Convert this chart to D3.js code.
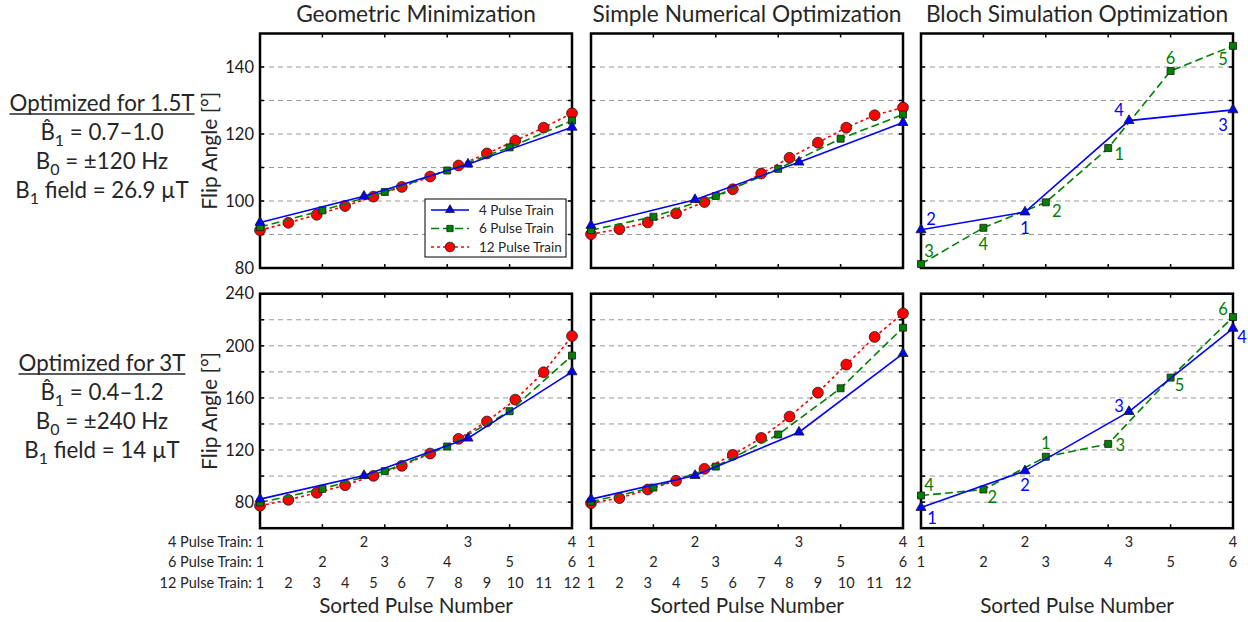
<!DOCTYPE html>
<html>
<head>
<meta charset="utf-8">
<script src="https://cdn.jsdelivr.net/npm/d3@7"></script>
<style>
body { margin: 0; background: #fff; }
text { font-family: Lato, "Open Sans", sans-serif; fill: #262626; }
</style>
</head>
<body>
<div id="chart"></div>
<script>
// data
var trainNames = ["4 Pulse Train", "6 Pulse Train", "12 Pulse Train"];
var colTitles = ["Geometric Minimization", "Simple Numerical Optimization", "Bloch Simulation Optimization"];

// 1.5T row
var gm15_4 = [93.6, 101.4, 111.0, 122.0];
var gm15_6 = [92.2, 97.2, 102.7, 109.1, 116.0, 124.0];
var gm15_12 = [91.3, 93.5, 95.9, 98.5, 101.3, 104.2, 107.3, 110.6, 114.2, 118.0, 121.9, 126.2];
var sno15_4 = [92.7, 100.4, 111.6, 123.4];
var sno15_6 = [91.3, 95.3, 101.5, 109.6, 118.6, 125.8];
var sno15_12 = [90.1, 91.6, 93.6, 96.3, 99.7, 103.5, 108.2, 112.9, 117.4, 121.9, 125.6, 127.9];
var bloch15_4 = [91.4, 96.7, 124.0, 127.2];
var bloch15_6 = [81.2, 92.0, 99.6, 115.8, 138.8, 146.3];
var bloch15_4Order = ["2", "1", "4", "3"];
var bloch15_6Order = ["3", "4", "2", "1", "6", "5"];

// 3T row
var gm3_4 = [82.3, 100.4, 129.1, 180.0];
var gm3_6 = [79.7, 90.2, 103.8, 122.7, 149.8, 192.5];
var gm3_12 = [77.2, 81.8, 87.2, 93.0, 100.2, 107.9, 117.3, 128.6, 141.9, 158.7, 179.7, 207.5];
var sno3_4 = [82.3, 100.4, 133.7, 194.0];
var sno3_6 = [80.3, 91.2, 107.3, 131.9, 167.4, 213.9];
var sno3_12 = [79.2, 83.1, 89.7, 96.4, 105.6, 116.3, 129.3, 145.7, 164.1, 185.6, 206.8, 224.9];
var bloch3_4 = [75.9, 104.0, 149.5, 213.4];
var bloch3_6 = [85.1, 89.7, 114.8, 124.7, 175.6, 222.1];
var bloch3_4Order = ["1", "2", "3", "4"];
var bloch3_6Order = ["4", "2", "1", "3", "5", "6"];

// left side notes: [text, subscript, text, ...]
var notes15 = [["Optimized for 1.5T"], ["B\u0302", "1", " = 0.7\u20131.0"], ["B", "0", " = \u00b1120 Hz"], ["B", "1", " field = 26.9 \u00b5T"]];
var notes3 = [["Optimized for 3T"], ["B\u0302", "1", " = 0.4\u20131.2"], ["B", "0", " = \u00b1240 Hz"], ["B", "1", " field = 14 \u00b5T"]];

// layout
var W = 1248, H = 622;
var colX = [260, 591, 921], panelW = 312;
var rowY = [33.5, 293.7], panelH = 234.5;
var yDomains = [[80, 150], [60, 240]];
var yLabelTicks = [[80, 100, 120, 140], [80, 120, 160, 200, 240]];
var yGridTicks = [d3.range(90, 150, 10), d3.range(80, 240, 20)];

var colors = ["#0000ff", "#008000", "#ff0000"];
var dashes = [null, "8,4", "3,3"];
var symbolTypes = [d3.symbolTriangle, d3.symbolSquare, d3.symbolCircle];
var symbolSizes = [44, 49, 92];

// label offsets for Bloch pulse order numbers (dx, dy)
var off15_4 = [[10, -11], [0, 16], [-10, -10], [-10, 15]];
var off15_6 = [[8, -13], [0, 16], [11, 9], [11, 6], [0, -13], [-10, 13]];
var off3_4 = [[11, 11], [0, 14], [-10, -5], [9, 9]];
var off3_6 = [[8, -10], [9, 8], [0, -14], [12, 1], [9, 8], [-10, -8]];

var panels = [
  [[gm15_4, gm15_6, gm15_12], [sno15_4, sno15_6, sno15_12], [bloch15_4, bloch15_6]],
  [[gm3_4, gm3_6, gm3_12], [sno3_4, sno3_6, sno3_12], [bloch3_4, bloch3_6]]
];
var orders = [[bloch15_4Order, bloch15_6Order], [bloch3_4Order, bloch3_6Order]];
var offsets = [[off15_4, off15_6], [off3_4, off3_6]];

var svg = d3.select("#chart")
  .append("svg")
  .attr("width", W)
  .attr("height", H);

function xScale(n) {
  return d3.scaleLinear().domain([1, n]).range([0, panelW]);
}
var x6 = xScale(6);

colTitles.forEach(function(t, c){
  svg.append("text")
    .attr("x", colX[c] + panelW / 2)
    .attr("y", 22)
    .attr("text-anchor", "middle")
    .style("font-size", "22.7px")
    .text(t);
});

[0, 1].forEach(function(r){
  var y = d3.scaleLinear().domain(yDomains[r]).range([panelH, 0]);

  // y axis title
  svg.append("text")
    .attr("transform", "translate(217," + (rowY[r] + panelH / 2) + ") rotate(-90)")
    .attr("text-anchor", "middle")
    .style("font-size", "21px")
    .text("Flip Angle [\u00b0]");

  // y tick labels (left column only)
  svg.append("g").selectAll("text")
    .data(yLabelTicks[r]).enter()
    .append("text")
    .attr("x", 254)
    .attr("y", function(d){ return rowY[r] + y(d); })
    .attr("dy", "0.35em")
    .attr("text-anchor", "end")
    .style("font-size", "16.5px")
    .style("fill", "#1a1a1a")
    .text(function(d){ return d; });

  [0, 1, 2].forEach(function(c){
    var g = svg.append("g")
      .attr("transform", "translate(" + colX[c] + "," + rowY[r] + ")");

    // grid
    g.append("g").selectAll("line")
      .data(yGridTicks[r]).enter()
      .append("line")
      .attr("x1", 0).attr("x2", panelW)
      .attr("y1", function(d){ return y(d); })
      .attr("y2", function(d){ return y(d); })
      .attr("stroke", "#9a9a9a")
      .attr("stroke-width", 1)
      .attr("stroke-dasharray", "5,4");

    // inward ticks
    var yt = yGridTicks[r];
    g.append("g").selectAll("line")
      .data(yt.concat(yt)).enter()
      .append("line")
      .attr("x1", function(d, i){ return i < yt.length ? 0 : panelW; })
      .attr("x2", function(d, i){ return i < yt.length ? 4 : panelW - 4; })
      .attr("y1", function(d){ return y(d); })
      .attr("y2", function(d){ return y(d); })
      .attr("stroke", "#000")
      .attr("stroke-width", 1.5);
    var xt = [2, 3, 4, 5];
    g.append("g").selectAll("line")
      .data(xt.concat(xt)).enter()
      .append("line")
      .attr("x1", function(d){ return x6(d); })
      .attr("x2", function(d){ return x6(d); })
      .attr("y1", function(d, i){ return i < xt.length ? 0 : panelH; })
      .attr("y2", function(d, i){ return i < xt.length ? 4 : panelH - 4; })
      .attr("stroke", "#000")
      .attr("stroke-width", 1.5);

    // frame
    g.append("rect")
      .attr("width", panelW)
      .attr("height", panelH)
      .attr("fill", "none")
      .attr("stroke", "#000")
      .attr("stroke-width", 2.5);

    var series = panels[r][c];
    // draw 12 first so that 4 sits on top
    d3.range(series.length).reverse().forEach(function(s){
      var vals = series[s];
      var x = xScale(vals.length);
      var line = d3.line()
        .x(function(d, i){ return x(i + 1); })
        .y(function(d){ return y(d); });
      g.append("path")
        .datum(vals)
        .attr("d", line)
        .attr("fill", "none")
        .attr("stroke", colors[s])
        .attr("stroke-width", 1.6)
        .attr("stroke-dasharray", dashes[s]);
      var sym = d3.symbol().type(symbolTypes[s]).size(symbolSizes[s]);
      g.append("g").selectAll("path")
        .data(vals).enter()
        .append("path")
        .attr("transform", function(d, i){ return "translate(" + x(i + 1) + "," + y(d) + ")"; })
        .attr("d", sym)
        .attr("fill", colors[s])
        .attr("stroke", "#1a1a1a")
        .attr("stroke-width", 0.8);

      if (c == 2) {
        var ord = orders[r][s], off = offsets[r][s];
        g.append("g").selectAll("text")
          .data(vals).enter()
          .append("text")
          .attr("x", function(d, i){ return x(i + 1) + off[i][0]; })
          .attr("y", function(d, i){ return y(d) + off[i][1]; })
          .attr("dy", "0.35em")
          .attr("text-anchor", "middle")
          .style("font-size", "16.5px")
          .style("fill", colors[s])
          .text(function(d, i){ return ord[i]; });
      }
    });

    // legend in first panel
    if (r == 0 && c == 0) {
      var lg = g.append("g").attr("transform", "translate(165,165.5)");
      lg.append("rect")
        .attr("width", 141).attr("height", 58)
        .attr("fill", "#fff")
        .attr("stroke", "#000")
        .attr("stroke-width", 1);
      trainNames.forEach(function(name, s){
        var ly = 11 + s * 18.5;
        lg.append("line")
          .attr("x1", 6).attr("x2", 44)
          .attr("y1", ly).attr("y2", ly)
          .attr("stroke", colors[s])
          .attr("stroke-width", 1.6)
          .attr("stroke-dasharray", dashes[s]);
        lg.append("path")
          .attr("transform", "translate(25," + ly + ")")
          .attr("d", d3.symbol().type(symbolTypes[s]).size(symbolSizes[s] * 0.8))
          .attr("fill", colors[s])
          .attr("stroke", "#1a1a1a")
          .attr("stroke-width", 0.8);
        lg.append("text")
          .attr("x", 54).attr("y", ly)
          .attr("dy", "0.35em")
          .style("font-size", "13.5px")
          .text(name);
      });
    }
  });
});

// x axis pulse number rows
var rowLabY = [542, 562, 583];
trainNames.forEach(function(name, s){
  svg.append("text")
    .attr("x", 252)
    .attr("y", rowLabY[s])
    .attr("dy", "0.35em")
    .attr("text-anchor", "end")
    .style("font-size", "14.5px")
    .text(name + ":");
});
[0, 1, 2].forEach(function(c){
  var nTrains = panels[0][c].length;
  d3.range(nTrains).forEach(function(s){
    var n = panels[0][c][s].length;
    var x = xScale(n);
    svg.append("g").selectAll("text")
      .data(d3.range(1, n + 1)).enter()
      .append("text")
      .attr("x", function(d){ return colX[c] + x(d); })
      .attr("y", rowLabY[s])
      .attr("dy", "0.35em")
      .attr("text-anchor", "middle")
      .style("font-size", "14.5px")
      .text(function(d){ return d; });
  });
  svg.append("text")
    .attr("x", colX[c] + panelW / 2)
    .attr("y", 613)
    .attr("text-anchor", "middle")
    .style("font-size", "20.7px")
    .text("Sorted Pulse Number");
});

// notes on the left
function drawNotes(lines, y0) {
  lines.forEach(function(parts, k){
    var t = svg.append("text")
      .attr("x", 102)
      .attr("y", y0 + k * 29)
      .attr("text-anchor", "middle")
      .style("font-size", "22.3px");
    parts.forEach(function(p, j){
      var ts = t.append("tspan").text(p);
      if (j % 2 == 1) ts.attr("dy", 6).style("font-size", "16px");
      else if (j > 0) ts.attr("dy", -6);
    });
    if (k == 0) {
      var bb = t.node().getBBox();
      svg.append("line")
        .attr("x1", bb.x).attr("x2", bb.x + bb.width)
        .attr("y1", y0 + 3).attr("y2", y0 + 3)
        .attr("stroke", "#262626")
        .attr("stroke-width", 1.3);
    }
  });
}
drawNotes(notes15, 111);
drawNotes(notes3, 371);
</script>
</body>
</html>
